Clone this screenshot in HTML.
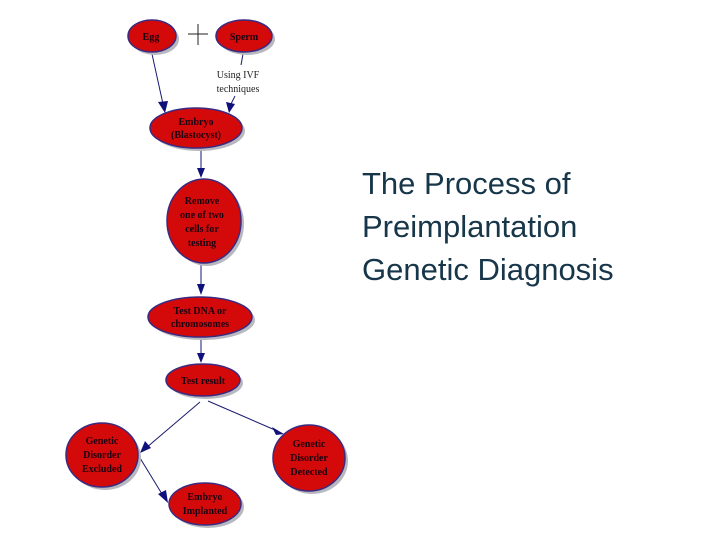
<!DOCTYPE html>
<html><head><meta charset="utf-8"><style>
html,body{margin:0;padding:0;background:#fff;width:720px;height:540px;overflow:hidden}
.t{font-family:"Liberation Serif",serif;font-weight:bold;font-size:10px;fill:#1a0010;text-anchor:middle}
.n{fill:#d40a0a;stroke:#3a2a80;stroke-width:1.5}
.s{fill:#b8b8c0}
.l{stroke:#1a1a70;stroke-width:1;fill:none}
.a{fill:#10107a}
</style></head><body>
<svg width="720" height="540" xmlns="http://www.w3.org/2000/svg">
<!-- connectors -->
<line class="l" x1="152" y1="54" x2="163" y2="104"/>
<polygon class="a" points="158,102 168,101 165,113"/>
<line class="l" x1="243" y1="54" x2="241" y2="65"/>
<line class="l" x1="235" y1="96" x2="231" y2="104"/>
<polygon class="a" points="226,102 235,104 229,113"/>
<line class="l" x1="201" y1="150" x2="201" y2="170"/>
<polygon class="a" points="197,168 205,168 201,178"/>
<line class="l" x1="201" y1="264" x2="201" y2="285"/>
<polygon class="a" points="197,284 205,284 201,295"/>
<line class="l" x1="201" y1="339" x2="201" y2="354"/>
<polygon class="a" points="197,353 205,353 201,363"/>
<line class="l" x1="200" y1="402" x2="146" y2="448"/>
<polygon class="a" points="145,441 151,448 140,453"/>
<line class="l" x1="208" y1="401" x2="275" y2="430"/>
<polygon class="a" points="272,427 276,435 284,434"/>
<line class="l" x1="140" y1="458" x2="162" y2="494"/>
<polygon class="a" points="158,494 166,490 168,503"/>
<!-- plus -->
<line x1="198" y1="24" x2="198" y2="45" stroke="#222" stroke-width="1"/>
<line x1="188" y1="34" x2="208" y2="34" stroke="#222" stroke-width="1"/>
<!-- shadows -->
<ellipse class="s" cx="155" cy="39" rx="24" ry="16"/>
<ellipse class="s" cx="247" cy="39" rx="28" ry="16"/>
<ellipse class="s" cx="199" cy="131" rx="46" ry="20"/>
<ellipse class="s" cx="207" cy="224" rx="37" ry="42"/>
<ellipse class="s" cx="203" cy="320" rx="52" ry="20"/>
<ellipse class="s" cx="206" cy="383" rx="37" ry="16"/>
<ellipse class="s" cx="105" cy="458" rx="36" ry="32"/>
<ellipse class="s" cx="312" cy="461" rx="36" ry="33"/>
<ellipse class="s" cx="208" cy="507" rx="36" ry="21"/>
<!-- nodes -->
<ellipse class="n" cx="152" cy="36" rx="24" ry="16"/>
<ellipse class="n" cx="244" cy="36" rx="28" ry="16"/>
<ellipse class="n" cx="196" cy="128" rx="46" ry="20"/>
<ellipse class="n" cx="204" cy="221" rx="37" ry="42"/>
<ellipse class="n" cx="200" cy="317" rx="52" ry="20"/>
<ellipse class="n" cx="203" cy="380" rx="37" ry="16"/>
<ellipse class="n" cx="102" cy="455" rx="36" ry="32"/>
<ellipse class="n" cx="309" cy="458" rx="36" ry="33"/>
<ellipse class="n" cx="205" cy="504" rx="36" ry="21"/>
<!-- labels -->
<text class="t" x="151" y="40">Egg</text>
<text class="t" x="244" y="40">Sperm</text>
<text font-family="Liberation Serif,serif" font-size="10" fill="#222" text-anchor="middle" x="238" y="78">Using IVF</text>
<text font-family="Liberation Serif,serif" font-size="10" fill="#222" text-anchor="middle" x="238" y="92">techniques</text>
<text class="t" x="196" y="125">Embryo</text>
<text class="t" x="196" y="138">(Blastocyst)</text>
<text class="t" x="202" y="204">Remove</text>
<text class="t" x="202" y="218">one of two</text>
<text class="t" x="202" y="232">cells for</text>
<text class="t" x="202" y="246">testing</text>
<text class="t" x="200" y="314">Test DNA or</text>
<text class="t" x="200" y="327">chromosomes</text>
<text class="t" x="203" y="384">Test result</text>
<text class="t" x="102" y="444">Genetic</text>
<text class="t" x="102" y="458">Disorder</text>
<text class="t" x="102" y="472">Excluded</text>
<text class="t" x="309" y="447">Genetic</text>
<text class="t" x="309" y="461">Disorder</text>
<text class="t" x="309" y="475">Detected</text>
<text class="t" x="205" y="500">Embryo</text>
<text class="t" x="205" y="514">Implanted</text>
<!-- title -->
<g font-family="Liberation Sans,Arial,sans-serif" font-size="31" fill="#17364a">
<text x="362" y="194">The Process of</text>
<text x="362" y="237">Preimplantation</text>
<text x="362" y="280">Genetic Diagnosis</text>
</g>
</svg>
</body></html>
